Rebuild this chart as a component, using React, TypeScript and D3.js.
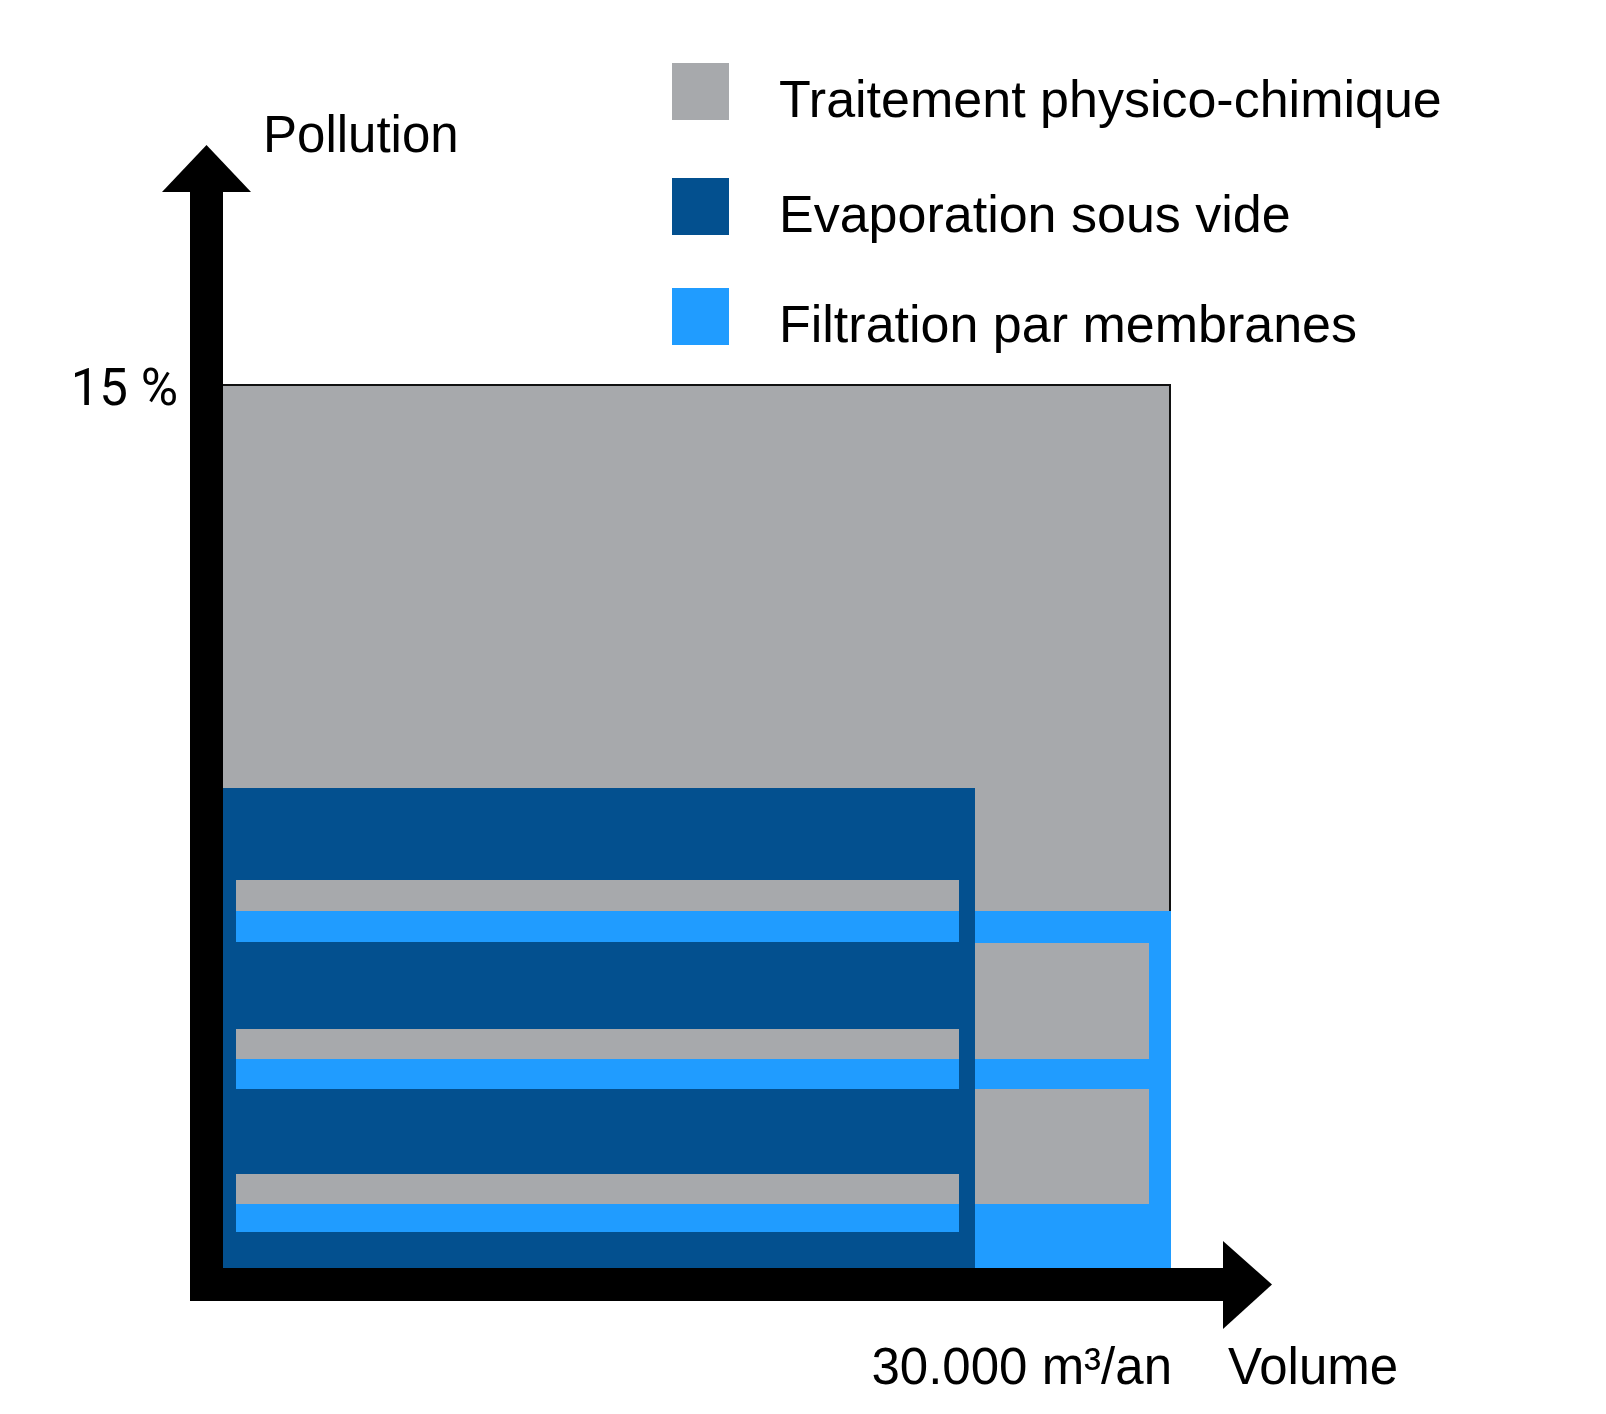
import { useRef, useEffect } from "react";
import * as d3 from "d3";

// techniques shown in the legend
const techniques = [
  "Traitement physico-chimique",
  "Evaporation sous vide",
  "Filtration par membranes",
];
const techniqueColors = ["#a7a9ac", "#03508f", "#209cff"];

// big zones: [volume from, volume to, pollution from, pollution to] in m3/an and %
const physicoZone = [0, 30000, 0, 15];
const evaporationZone = [0, 23800, 0, 8.15];
const membraneZone = [23800, 30000, 0, 6.05];

// stripes inside the evaporation zone
const evapPhysicoStripes = [
  [420, 23300, 6.05, 6.58],
  [420, 23300, 3.55, 4.05],
  [420, 23300, 1.09, 1.6],
];
const evapMembraneStripes = [
  [420, 23300, 5.53, 6.05],
  [420, 23300, 3.04, 3.55],
  [420, 23300, 0.61, 1.09],
];
// physico blocks inside the membrane zone
const membranePhysicoBlocks = [
  [23800, 29300, 3.55, 5.52],
  [23800, 29300, 1.09, 3.04],
];

const volumeMax = 30000;
const pollutionMax = 15;
const volumeLabel = "30.000 m³/an";
const pollutionLabel = "15 %";

export default function App() {
  const svgRef = useRef(null);
  const width = 1606;
  const height = 1414;

  useEffect(() => {
    const svg = d3.select(svgRef.current);
    svg.selectAll("*").remove();
    svg.attr("width", width).attr("height", height);

    const x = d3.scaleLinear().domain([0, volumeMax]).range([223, 1171]);
    const y = d3.scaleLinear().domain([0, pollutionMax]).range([1268, 384]);
    const axisW = 33;
    const font = "'Liberation Sans', Arial, sans-serif";

    const drawBlocks = (blocks: number[][], color: string) => {
      svg
        .append("g")
        .selectAll("rect")
        .data(blocks)
        .join("rect")
        .attr("x", (d) => x(d[0]))
        .attr("width", (d) => x(d[1]) - x(d[0]))
        .attr("y", (d) => y(d[3]))
        .attr("height", (d) => y(d[2]) - y(d[3]))
        .attr("fill", color)
        .attr("shape-rendering", "crispEdges");
    };

    drawBlocks([physicoZone], techniqueColors[0]);
    // thin black outline on the top and right of the physico zone
    svg
      .append("path")
      .attr(
        "d",
        `M${x(0)},${y(physicoZone[3]) + 1}H${x(volumeMax) - 1}V${y(membraneZone[3])}`
      )
      .attr("fill", "none")
      .attr("stroke", "#111")
      .attr("stroke-width", 2);
    drawBlocks([evaporationZone], techniqueColors[1]);
    drawBlocks([membraneZone], techniqueColors[2]);
    drawBlocks(evapPhysicoStripes, techniqueColors[0]);
    drawBlocks(evapMembraneStripes, techniqueColors[2]);
    drawBlocks(membranePhysicoBlocks, techniqueColors[0]);

    // axes as thick arrows
    const x0 = x(0);
    const y0 = y(0);
    const axes = svg.append("g").attr("fill", "#000");
    axes
      .append("rect")
      .attr("x", x0 - axisW)
      .attr("y", 190)
      .attr("width", axisW)
      .attr("height", y0 + axisW - 190);
    axes
      .append("path")
      .attr("d", `M${x0 - axisW / 2},145L${x0 + 28},192L${x0 - 61},192Z`);
    axes
      .append("rect")
      .attr("x", x0 - axisW)
      .attr("y", y0)
      .attr("width", 1225 - (x0 - axisW))
      .attr("height", axisW);
    axes
      .append("path")
      .attr(
        "d",
        `M1223,${y0 - 27}L1272,${y0 + axisW / 2}L1223,${y0 + 61}Z`
      );

    // axis labels
    svg
      .append("text")
      .attr("x", 263)
      .attr("y", 152)
      .attr("font-family", font)
      .attr("font-size", 51)
      .text("Pollution");
    svg
      .append("text")
      .attr("x", x0 - axisW - 12)
      .attr("y", y(pollutionMax) + 21)
      .attr("text-anchor", "end")
      .attr("font-family", "Roboto, sans-serif")
      .attr("font-size", 51)
      .text(pollutionLabel);
    svg
      .append("text")
      .attr("x", x(volumeMax) + 1)
      .attr("y", 1384)
      .attr("text-anchor", "end")
      .attr("font-family", font)
      .attr("font-size", 51)
      .text(volumeLabel);
    svg
      .append("text")
      .attr("x", 1228)
      .attr("y", 1384)
      .attr("font-family", font)
      .attr("font-size", 51)
      .text("Volume");

    // legend
    const legendTop = [63, 178, 288];
    const legend = svg
      .append("g")
      .selectAll("g")
      .data(techniques)
      .join("g")
      .attr("transform", (_d, i) => `translate(672,${legendTop[i]})`);
    legend
      .append("rect")
      .attr("width", 57)
      .attr("height", 57)
      .attr("fill", (_d, i) => techniqueColors[i]);
    legend
      .append("text")
      .attr("x", 107)
      .attr("y", 54)
      .attr("font-family", font)
      .attr("font-size", 52)
      .text((d) => d);
  }, []);

  return (
    <div>
      <svg
        ref={svgRef}
        style={{ position: "absolute", left: 0, top: 0, background: "#fff" }}
      />
    </div>
  );
}
